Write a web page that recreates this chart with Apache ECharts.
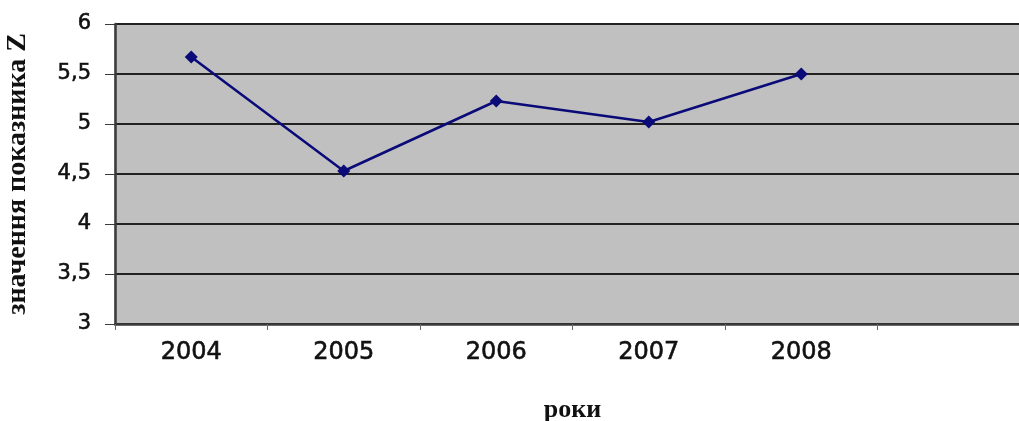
<!DOCTYPE html>
<html>
<head>
<meta charset="utf-8">
<script src="https://cdn.jsdelivr.net/npm/echarts@6/dist/echarts.min.js"></script>
<style>
  html, body { margin: 0; padding: 0; background: #fff; }
  #chart { width: 1019px; height: 421px; }
</style>
</head>
<body>
<div id="chart"></div>
<script>
// Years on the horizontal axis (last slot is left empty)
const years = ['2004', '2005', '2006', '2007', '2008', ''];
// Value of indicator Z per year
const zValues = [5.67, 4.53, 5.23, 5.02, 5.50];
// Vertical axis range and step
const yMin = 3, yMax = 6, yStep = 0.5;

const labelFont = 'DejaVu Sans';
const nameFont = 'Liberation Serif';

const chart = echarts.init(document.getElementById('chart'));
chart.setOption({
  animation: false,
  backgroundColor: '#ffffff',
  grid: {
    left: 115, top: 24, right: -11, bottom: 97,
    outerBoundsMode: 'none',
    containLabel: false,
    show: true,
    backgroundColor: '#c0c0c0',
    borderColor: '#9a9a9a',
    borderWidth: 1
  },
  xAxis: {
    type: 'category',
    data: years,
    boundaryGap: true,
    name: 'роки',
    nameLocation: 'middle',
    nameGap: 73,
    nameTextStyle: { fontFamily: nameFont, fontWeight: 'bold', fontSize: 26, color: '#111' },
    axisLine: { show: true, lineStyle: { color: '#3a3a3a', width: 2.5 } },
    axisTick: { show: true, alignWithLabel: false, length: 6, lineStyle: { color: '#666', width: 1 } },
    axisLabel: {
      margin: 17, fontFamily: labelFont, fontSize: 24, color: '#111',
      textBorderColor: '#111', textBorderWidth: 0.6
    },
    splitLine: { show: false }
  },
  yAxis: {
    type: 'value',
    min: yMin, max: yMax, interval: yStep,
    name: 'значення показника Z',
    nameLocation: 'middle',
    nameGap: 83,
    nameTextStyle: { fontFamily: nameFont, fontWeight: 'bold', fontSize: 28, color: '#111' },
    axisLine: { show: true, lineStyle: { color: '#3a3a3a', width: 2.5 } },
    axisTick: { show: true, length: 10, lineStyle: { color: '#3a3a3a', width: 1 } },
    axisLabel: {
      margin: 24, fontFamily: labelFont, fontSize: 21, color: '#111',
      textBorderColor: '#111', textBorderWidth: 0.6,
      formatter: v => String(v).replace('.', ',')
    },
    splitLine: { show: true, lineStyle: { color: '#222', width: 2 } }
  },
  series: [{
    type: 'line',
    data: zValues,
    symbol: 'diamond',
    symbolSize: 13,
    lineStyle: { color: '#0a0a78', width: 2.5 },
    itemStyle: { color: '#0a0a78' }
  }]
});
</script>
</body>
</html>
